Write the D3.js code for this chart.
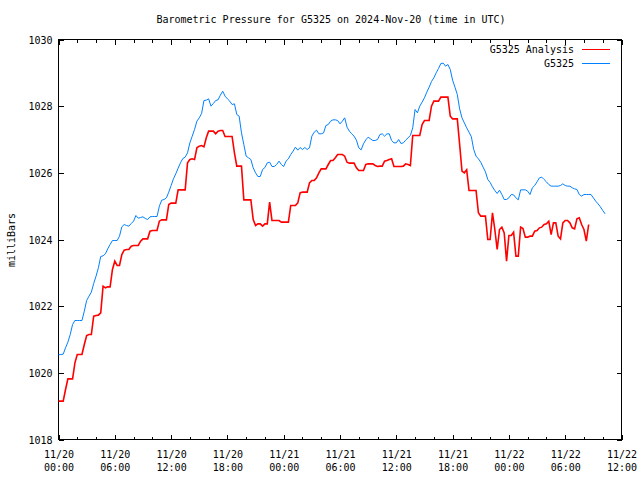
<!DOCTYPE html>
<html><head><meta charset="utf-8">
<script src="https://cdn.jsdelivr.net/npm/d3@7"></script>
<style>
body{margin:0;background:#fff}
svg text{font-family:'DejaVu Sans Mono','Liberation Mono',monospace;font-size:10px;fill:#000}
</style>
</head><body><svg id="c" width="640" height="480"></svg>
<script>
const chartTitle = "Barometric Pressure for G5325 on 2024-Nov-20 (time in UTC)";
const yAxisTitle = "milliBars";
const seriesNames = ["G5325 Analysis", "G5325"];
const seriesColors = ["#ff0000", "#0080ff"];
const sampleStepHours = 0.25;

const analysisValues = [
1019.15,1019.15,1019.15,1019.5,1019.82,1019.82,1019.82,1020.3,1020.55,1020.55,
1020.55,1020.85,1021.12,1021.15,1021.15,1021.7,1021.72,1021.73,1021.8,1022.6,
1022.55,1022.58,1022.58,1023.1,1023.35,1023.22,1023.22,1023.55,1023.68,1023.7,
1023.7,1023.8,1023.82,1023.82,1023.82,1023.95,1024.02,1024.02,1024.02,1024.25,
1024.27,1024.27,1024.27,1024.55,1024.59,1024.59,1024.59,1025.05,1025.09,1025.09,
1025.09,1025.49,1025.49,1025.49,1025.49,1026.3,1026.4,1026.42,1026.4,1026.75,
1026.8,1026.82,1026.78,1027.05,1027.25,1027.25,1027.25,1027.17,1027.25,1027.27,
1027.27,1027.09,1027.09,1027.09,1027.09,1026.6,1026.2,1026.2,1026.2,1025.19,
1025.19,1025.19,1025.19,1024.6,1024.42,1024.47,1024.47,1024.4,1024.47,1024.47,
1025.12,1024.57,1024.57,1024.57,1024.57,1024.52,1024.52,1024.52,1024.52,1025.02,
1025.02,1025.02,1025.1,1025.4,1025.42,1025.42,1025.42,1025.7,1025.77,1025.77,
1025.85,1026.0,1026.12,1026.12,1026.12,1026.25,1026.37,1026.37,1026.45,1026.55,
1026.55,1026.55,1026.5,1026.32,1026.29,1026.29,1026.29,1026.15,1026.07,1026.07,
1026.07,1026.25,1026.27,1026.27,1026.27,1026.22,1026.19,1026.2,1026.2,1026.35,
1026.37,1026.4,1026.42,1026.19,1026.19,1026.19,1026.19,1026.2,1026.27,1026.25,
1026.22,1027.12,1027.12,1027.12,1027.12,1027.45,1027.57,1027.57,1027.57,1028.0,
1028.15,1028.15,1028.15,1028.27,1028.27,1028.27,1028.27,1027.7,1027.62,1027.62,
1027.62,1026.85,1026.05,1026.0,1026.09,1025.47,1025.47,1025.47,1025.47,1024.8,
1024.7,1024.7,1024.7,1024.0,1024.0,1024.8,1024.3,1023.7,1024.3,1024.37,
1024.2,1023.35,1024.12,1024.12,1024.22,1023.5,1023.5,1024.37,1024.33,1024.07,
1024.07,1024.1,1024.1,1024.25,1024.27,1024.35,1024.37,1024.45,1024.47,1024.55,
1024.15,1024.5,1024.5,1024.1,1024.02,1024.5,1024.57,1024.57,1024.5,1024.35,
1024.32,1024.62,1024.65,1024.45,1024.3,1023.95,1024.45
];

const observedValues = [
1020.54,1020.55,1020.56,1020.75,1020.92,1021.15,1021.45,1021.57,1021.57,1021.57,
1021.57,1021.85,1022.17,1022.3,1022.42,1022.68,1022.9,1023.15,1023.49,1023.51,
1023.57,1023.72,1023.85,1023.97,1023.97,1023.97,1024.1,1024.38,1024.45,1024.42,
1024.4,1024.48,1024.55,1024.72,1024.64,1024.66,1024.68,1024.63,1024.6,1024.68,
1024.69,1024.69,1024.69,1025.0,1025.18,1025.2,1025.25,1025.42,1025.62,1025.82,
1025.97,1026.14,1026.3,1026.43,1026.47,1026.6,1026.9,1027.1,1027.3,1027.55,
1027.65,1027.78,1028.17,1028.18,1028.22,1028.0,1028.08,1028.17,1028.19,1028.33,
1028.45,1028.3,1028.22,1028.15,1028.05,1028.07,1027.75,1027.7,1027.2,1026.85,
1026.5,1026.45,1026.4,1026.15,1026.0,1025.89,1025.89,1026.1,1026.16,1026.3,
1026.32,1026.19,1026.19,1026.25,1026.35,1026.25,1026.19,1026.35,1026.42,1026.55,
1026.65,1026.77,1026.68,1026.76,1026.7,1026.76,1026.7,1026.75,1027.1,1027.22,
1027.28,1027.17,1027.17,1027.2,1027.42,1027.45,1027.55,1027.59,1027.59,1027.57,
1027.47,1027.55,1027.65,1027.37,1027.25,1027.17,1027.1,1026.98,1026.75,1026.69,
1026.87,1026.99,1027.07,1027.02,1026.97,1026.97,1027.0,1027.15,1027.17,1027.1,
1027.17,1027.17,1026.97,1026.9,1026.9,1027.0,1026.88,1026.9,1026.98,1027.05,
1027.12,1027.35,1027.9,1027.8,1028.0,1028.12,1028.25,1028.42,1028.57,1028.74,
1028.85,1029.0,1029.13,1029.28,1029.29,1029.2,1029.25,1029.1,1028.78,1028.57,
1028.35,1027.92,1027.65,1027.5,1027.35,1027.22,1027.08,1026.7,1026.5,1026.42,
1026.32,1026.17,1026.03,1025.8,1025.71,1025.58,1025.47,1025.38,1025.48,1025.35,
1025.2,1025.2,1025.25,1025.35,1025.34,1025.25,1025.19,1025.49,1025.49,1025.49,
1025.45,1025.35,1025.55,1025.62,1025.73,1025.85,1025.87,1025.8,1025.73,1025.65,
1025.6,1025.6,1025.6,1025.6,1025.62,1025.67,1025.62,1025.6,1025.6,1025.55,
1025.52,1025.5,1025.35,1025.3,1025.35,1025.35,1025.35,1025.35,1025.25,1025.15,
1025.07,1024.98,1024.87,1024.77
];

const xTickHours = [0, 6, 12, 18, 24, 30, 36, 42, 48, 54, 60];
const xTickDates = ["11/20","11/20","11/20","11/20","11/21","11/21","11/21","11/21","11/22","11/22","11/22"];
const xTickTimes = ["00:00","06:00","12:00","18:00","00:00","06:00","12:00","18:00","00:00","06:00","12:00"];
const xMinorHours = [2,4,8,10,14,16,20,22,26,28,32,34,38,40,44,46,50,52,56,58];
const yTicks = [1018, 1020, 1022, 1024, 1026, 1028, 1030];

const svg = d3.select("#c");
const L = 58.5, R = 621.5, T = 39.5, B = 439.5;
const x = d3.scaleLinear().domain([0, 60]).range([L, R]);
const y = d3.scaleLinear().domain([1018, 1030]).range([B, T]);

// axes (ticks inward)
function clean(g){ g.select(".domain").remove(); g.selectAll("line").attr("stroke","#000").attr("shape-rendering","crispEdges"); }
svg.append("g").attr("transform",`translate(0,${B})`)
  .call(d3.axisBottom(x).tickValues(xMinorHours).tickSize(-3).tickFormat("")).call(clean);
svg.append("g").attr("transform",`translate(0,${T})`)
  .call(d3.axisTop(x).tickValues(xMinorHours).tickSize(-3).tickFormat("")).call(clean);
const bx = svg.append("g").attr("transform",`translate(0,${B})`)
  .call(d3.axisBottom(x).tickValues(xTickHours).tickSize(-5).tickFormat("")).call(clean);
svg.append("g").attr("transform",`translate(0,${T})`)
  .call(d3.axisTop(x).tickValues(xTickHours).tickSize(-5).tickFormat("")).call(clean);
bx.selectAll(".tick").each(function(d, i){
  const t = d3.select(this).append("text").attr("text-anchor","middle").attr("stroke","none");
  t.append("tspan").attr("x",0).attr("y",18).text(xTickDates[i]);
  t.append("tspan").attr("x",0).attr("y",31).text(xTickTimes[i]);
});
const ly = svg.append("g").attr("transform",`translate(${L},0)`)
  .call(d3.axisLeft(y).tickValues(yTicks).tickSize(-5).tickPadding(6).tickFormat(d3.format("d"))).call(clean);
ly.selectAll("text").attr("fill","#000").attr("dy","0.35em").attr("x",-6);
svg.append("g").attr("transform",`translate(${R},0)`)
  .call(d3.axisRight(y).tickValues(yTicks).tickSize(-5).tickFormat("")).call(clean);
svg.selectAll(".tick text").style("font-family","'DejaVu Sans Mono',monospace").style("font-size","10px");

// border
svg.append("rect").attr("x",L).attr("y",T).attr("width",R-L).attr("height",B-T)
  .attr("fill","none").attr("stroke","#000").attr("shape-rendering","crispEdges");

// lines
const line = d3.line().x((d,i)=>x(i*sampleStepHours)).y(d=>y(d));
svg.append("path").datum(analysisValues).attr("d",line)
  .attr("fill","none").attr("stroke",seriesColors[0]).attr("stroke-width",1.6);
svg.append("path").datum(observedValues).attr("d",line)
  .attr("fill","none").attr("stroke",seriesColors[1]).attr("stroke-width",1);

// title
svg.append("text").attr("x",331).attr("y",23).attr("text-anchor","middle").text(chartTitle);
svg.append("text").attr("transform","translate(15,240) rotate(-90)").attr("text-anchor","middle").text(yAxisTitle);

// legend
const legY = [49, 63];
seriesNames.forEach((n,i)=>{
  svg.append("text").attr("x",574).attr("y",legY[i]+4).attr("text-anchor","end").text(n);
  svg.append("line").attr("x1",582).attr("x2",610).attr("y1",legY[i]+0.5).attr("y2",legY[i]+0.5)
    .attr("stroke",seriesColors[i]).attr("stroke-width",1);
});
</script></body></html>
